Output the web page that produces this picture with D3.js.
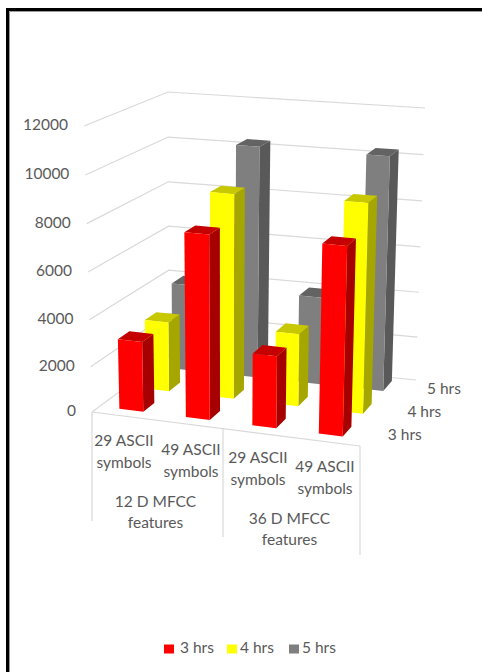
<!DOCTYPE html>
<html>
<head>
<meta charset="utf-8">
<script src="https://cdn.jsdelivr.net/npm/d3@7/dist/d3.min.js"></script>
<style>
html, body { margin: 0; padding: 0; background: #fff; }
svg { display: block; }
text { font-family: Lato, "Open Sans", sans-serif; font-size: 15.5px; fill: #595959; }
</style>
</head>
<body>
<div id="chart"></div>
<script>
const categories = ["29 ASCII symbols", "49 ASCII symbols", "29 ASCII symbols ", "49 ASCII symbols "];
const groups = ["12 D MFCC features", "36 D MFCC features"];
const seriesNames = ["3 hrs", "4 hrs", "5 hrs"];
const values3hrs = [3060, 7830, 3100, 7910];
const values4hrs = [3100, 8860, 3190, 8970];
const values5hrs = [3930, 10250, 3920, 10250];
const valueTicks = [0, 2000, 4000, 6000, 8000, 10000, 12000];

const series = [values3hrs, values4hrs, values5hrs];
const faceColors = [
  { front: "#ff0000", side: "#a60000", top: "#c40000" },
  { front: "#ffff00", side: "#a6a600", top: "#c8c800" },
  { front: "#7f7f7f", side: "#595959", top: "#636363" }
];
const legendColors = ["#ff0000", "#ffff00", "#7f7f7f"];

const width = 482, height = 672;
const svg = d3.select("#chart").append("svg").attr("width", width).attr("height", height);

// Category position across the floor, series position into the depth of the floor
const uScale = d3.scaleBand().domain(d3.range(categories.length)).range([-0.006, 0.994])
  .paddingInner(0.64).paddingOuter(0.32);
const wScale = d3.scaleBand().domain(d3.range(seriesNames.length)).range([0, 1.05])
  .paddingInner(0.5714).paddingOuter(0.2857);
// The slight power curve stands in for vertical perspective: higher ticks spread further apart
const vScale = d3.scalePow().exponent(1.03).domain([0, 12000]).range([0, 1]);

// Corners of the 3-D plot box as they land on the page
const box = {
  floor: { fl: [92, 412], fr: [360, 446], bl: [169, 355], br: [416, 380] },
  roof:  { fl: [84, 126], fr: [368, 150], bl: [168, 92],  br: [425, 108] }
};
const lerp = (a, b, t) => a + (b - a) * t;
function plane(p, u, w) {
  return [0, 1].map(i => lerp(lerp(p.fl[i], p.fr[i], u), lerp(p.bl[i], p.br[i], u), w));
}
function project(u, w, value) {
  const a = plane(box.floor, u, w), b = plane(box.roof, u, w), t = vScale(value);
  return [lerp(a[0], b[0], t), lerp(a[1], b[1], t)];
}
const poly = pts => "M" + pts.map(p => p.join(",")).join("L") + "Z";
const gridColor = "#d9d9d9";

// Walls: each gridline runs along the left wall and then the back wall
const grid = svg.append("g").attr("fill", "none").attr("stroke", gridColor).attr("stroke-width", 1.2);
grid.selectAll("path").data(valueTicks).join("path")
  .attr("d", v => d3.line()([project(0, 0, v), project(0, 1, v), project(1, 1, v)]));

// Front edge of the floor and the dividers that hang below it
const dividers = [[0, 109], [0.5, 108], [1, 109]];
grid.append("path").attr("d", d3.line()([project(0, 0, 0), project(1, 0, 0)]));
grid.selectAll("line").data(dividers).join("line")
  .attr("x1", d => project(d[0], 0, 0)[0] - (d[0] === 0.5 ? 3 : 0))
  .attr("y1", d => project(d[0], 0, 0)[1])
  .attr("x2", d => project(d[0], 0, 0)[0] - (d[0] === 0.5 ? 3 : 0))
  .attr("y2", d => project(d[0], 0, 0)[1] + d[1]);

// Bars, back row first so nearer bars cover the ones behind them
const barData = [];
d3.range(seriesNames.length).reverse().forEach(s => {
  categories.forEach((c, i) => barData.push({ s, i, value: series[s][i] }));
});
const bars = svg.append("g").selectAll("g").data(barData).join("g");
const corners = d => {
  const u0 = uScale(d.i), u1 = u0 + uScale.bandwidth();
  const w0 = wScale(d.s), w1 = w0 + wScale.bandwidth();
  return { u0, u1, w0, w1 };
};
bars.append("path").attr("fill", d => faceColors[d.s].side).attr("d", d => {
  const c = corners(d);
  return poly([project(c.u1, c.w0, 0), project(c.u1, c.w1, 0), project(c.u1, c.w1, d.value), project(c.u1, c.w0, d.value)]);
});
bars.append("path").attr("fill", d => faceColors[d.s].top).attr("d", d => {
  const c = corners(d);
  return poly([project(c.u0, c.w0, d.value), project(c.u1, c.w0, d.value), project(c.u1, c.w1, d.value), project(c.u0, c.w1, d.value)]);
});
bars.append("path").attr("fill", d => faceColors[d.s].front).attr("d", d => {
  const c = corners(d);
  return poly([project(c.u0, c.w0, 0), project(c.u1, c.w0, 0), project(c.u1, c.w0, d.value), project(c.u0, c.w0, d.value)]);
});

// Value axis labels
svg.append("g").selectAll("text").data(valueTicks).join("text")
  .attr("text-anchor", "end").attr("dominant-baseline", "middle")
  .attr("x", v => project(0, 0, v)[0] - 16)
  .attr("y", v => project(0, 0, v)[1] + 0)
  .text(v => v);

// Series labels along the right edge of the floor
svg.append("g").selectAll("text").data(seriesNames).join("text")
  .attr("dominant-baseline", "middle")
  .attr("x", (d, i) => project(1, wScale(i) + wScale.bandwidth() / 2, 0)[0] + 18)
  .attr("y", (d, i) => project(1, wScale(i) + wScale.bandwidth() / 2, 0)[1] + 2)
  .text(d => d);

// Two-line labels under the floor
function wrapped(sel, text, x, y, gap) {
  const words = text.trim().split(" ");
  const last = words.pop();
  [words.join(" "), last].forEach((line, k) => {
    sel.append("text").attr("text-anchor", "middle").attr("dominant-baseline", "middle")
      .attr("x", x).attr("y", y + k * gap).text(line);
  });
}
const labels = svg.append("g");
categories.forEach((c, i) => {
  const q = project((i + 0.5) / categories.length, 0, 0);
  wrapped(labels, c, q[0] - 1.5, q[1] + 26, 22);
});
groups.forEach((g, i) => {
  const q = project((i + 0.5) / groups.length, 0, 0);
  wrapped(labels, g, q[0] - 3.5, q[1] + 83, 21);
});

// Legend
const legendX = [164, 227, 289];
const legendTextOffset = [16, 13, 13];
const legend = svg.append("g").selectAll("g").data(seriesNames).join("g")
  .attr("transform", (d, i) => `translate(${legendX[i]},649)`);
legend.append("rect").attr("y", -4.5).attr("width", 10).attr("height", 9)
  .attr("fill", (d, i) => legendColors[i]);
legend.append("text").attr("x", (d, i) => legendTextOffset[i]).attr("dominant-baseline", "middle").text(d => d);

// Outer frame with its faint inner edge
svg.append("path").attr("fill", "none").attr("stroke", "#999").attr("stroke-width", 1)
  .attr("d", d3.line()([[9.5, height + 2], [9.5, 11.5], [width + 2, 11.5]]));
svg.append("path").attr("fill", "none").attr("stroke", "#000").attr("stroke-width", 3)
  .attr("d", d3.line()([[7.5, height + 2], [7.5, 9.5], [width + 2, 9.5]]));
</script>
</body>
</html>
